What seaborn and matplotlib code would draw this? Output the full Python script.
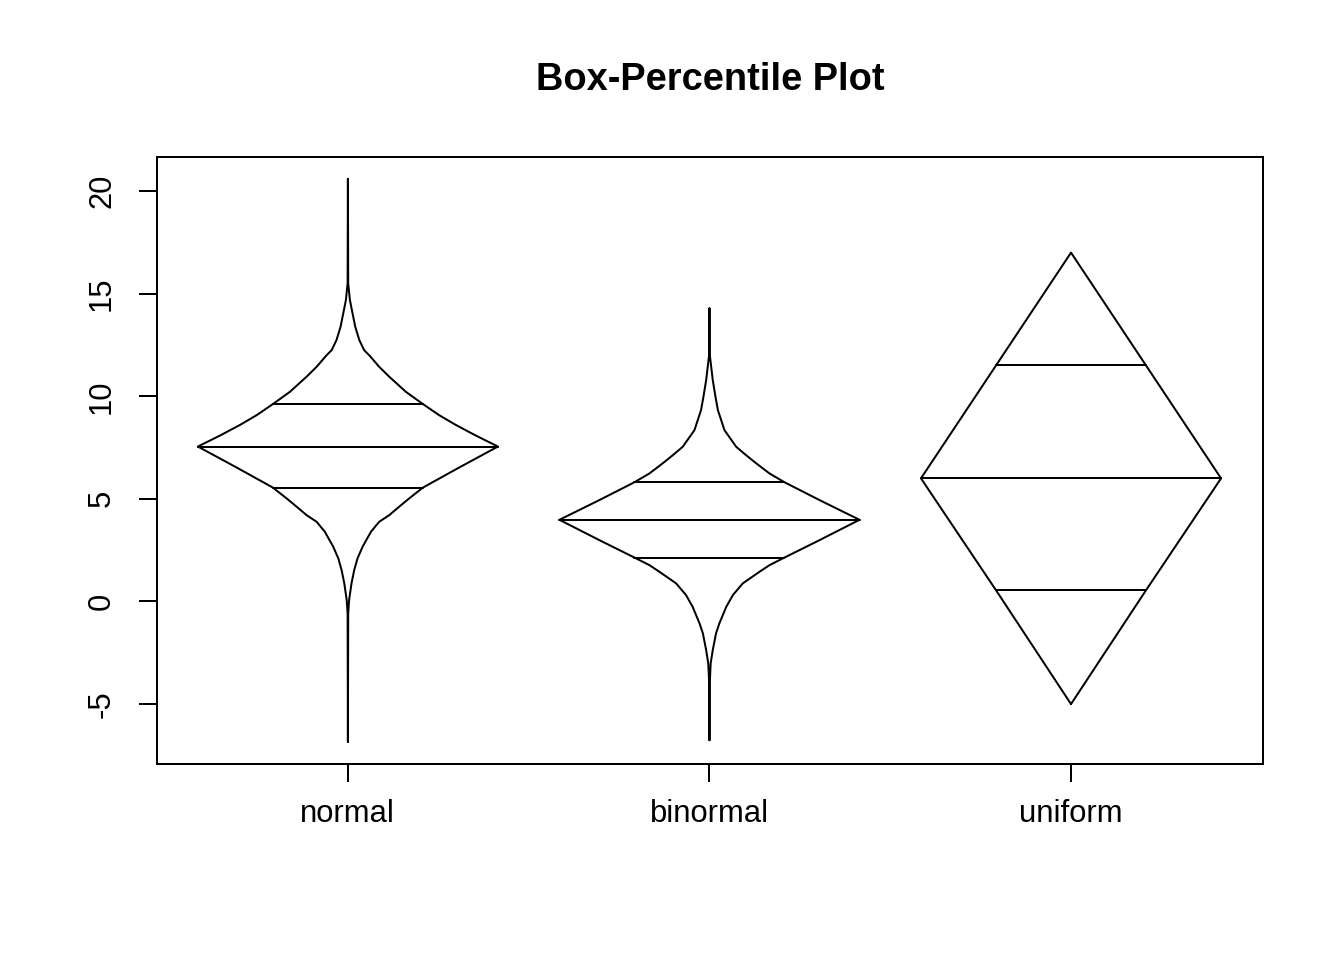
import numpy as np
import pandas as pd
import matplotlib
matplotlib.use('Agg')
import matplotlib.pyplot as plt
import seaborn as sns

# groups shown on the x axis
groups = ['normal', 'binormal', 'uniform']

# quantile values, with their cumulative percent
normal_val = [-6.84, -0.58, 0.07, 0.88, 1.53, 2.10, 2.67, 3.40, 3.88, 4.21, 4.62,
              5.02, 5.55, 6.53, 7.55, 8.08, 8.60, 9.08, 9.62, 10.22, 10.95,
              11.44, 12.0, 12.25, 12.74, 13.39, 14.2, 14.69, 15.5, 20.6]
normal_pct = [0, 0.1, 0.4, 1.2, 2.1, 3.2, 4.9, 7.7, 10.4, 13.8, 17.1,
              20.4, 25, 37.1, 50, 57.3, 64, 69.6, 75, 80.7, 86.2,
              89.6, 92.9, 94.6, 96.2, 97.56, 98.67, 99.33, 99.9, 100]

binormal_val = [-6.76, -3.99, -3.02, -2.37, -1.55, -1.07, -0.26, 0.31, 0.88, 1.45,
                1.77, 2.14, 2.99, 3.98, 4.94, 5.81, 6.24, 6.73, 7.13, 7.54,
                8.35, 9.33, 9.98, 10.79, 12.03, 14.3]
binormal_pct = [0, 0.1, 0.4, 1.1, 2.2, 3.3, 5.6, 7.8, 11.1, 16.7,
                20, 25, 36.7, 50, 63.3, 75, 80, 84.4, 87.8, 91.1,
                95, 97.2, 98, 98.9, 99.9, 100]

uniform_val = [-5.0, 0.55, 6.0, 11.5, 17.0]
uniform_pct = [0, 25, 50, 75, 100]

values = [normal_val, binormal_val, uniform_val]
pcts = [normal_pct, binormal_pct, uniform_pct]

# box-percentile width: half width = scale * min(p, 1-p)
scale = 0.83

rows = []
for i, name in enumerate(groups):
    pos = i + 1
    v = np.array(values[i])
    p = np.array(pcts[i]) / 100.0
    hw = scale * np.minimum(p, 1 - p)
    # outline: up the left side, down the right side
    xs = np.concatenate([pos - hw, (pos + hw)[::-1]])
    ys = np.concatenate([v, v[::-1]])
    for k in range(len(xs)):
        rows.append({'x': xs[k], 'y': ys[k], 'part': name + '_outline'})
    # median and quartile lines
    for q in [25, 50, 75]:
        qv = v[list(pcts[i]).index(q)]
        w = scale * min(q / 100.0, 1 - q / 100.0)
        rows.append({'x': pos - w, 'y': qv, 'part': name + '_q%d' % q})
        rows.append({'x': pos + w, 'y': qv, 'part': name + '_q%d' % q})

df = pd.DataFrame(rows)

sns.set_style('white')
plt.rcParams['font.family'] = ['Liberation Sans', 'DejaVu Sans']

fig = plt.figure(figsize=(1344 / 144, 960 / 144), dpi=144)
ax = fig.add_axes([157 / 1344, 1 - 764 / 960, (1263 - 157) / 1344, (764 - 157) / 960])

sns.lineplot(data=df, x='x', y='y', units='part', estimator=None, sort=False,
             color='black', linewidth=1, legend=False, ax=ax)

ax.set_xlim(0.472, 3.531)
ax.set_ylim(-7.92, 21.66)
ax.set_xticks([1, 2, 3])
ax.set_xticklabels(groups)
ax.set_yticks([-5, 0, 5, 10, 15, 20])
ax.set_yticklabels(['-5', '0', '5', '10', '15', '20'], rotation=90, va='center')
ax.set_xlabel('')
ax.set_ylabel('')

for s in ax.spines.values():
    s.set_visible(True)
    s.set_color('black')
    s.set_linewidth(1)
ax.tick_params(axis='both', which='major', direction='out', length=9, width=1,
               color='black', labelsize=15.5, labelcolor='black')
ax.tick_params(axis='y', pad=11)
ax.tick_params(axis='x', pad=8.5)
ax.xaxis.set_ticks_position('bottom')
ax.yaxis.set_ticks_position('left')

fig.text(710 / 1344, 1 - 80 / 960, 'Box-Percentile Plot', ha='center', va='center',
         fontsize=19, fontweight='bold', color='black')

fig.savefig('out.png', dpi=144, facecolor='white')
